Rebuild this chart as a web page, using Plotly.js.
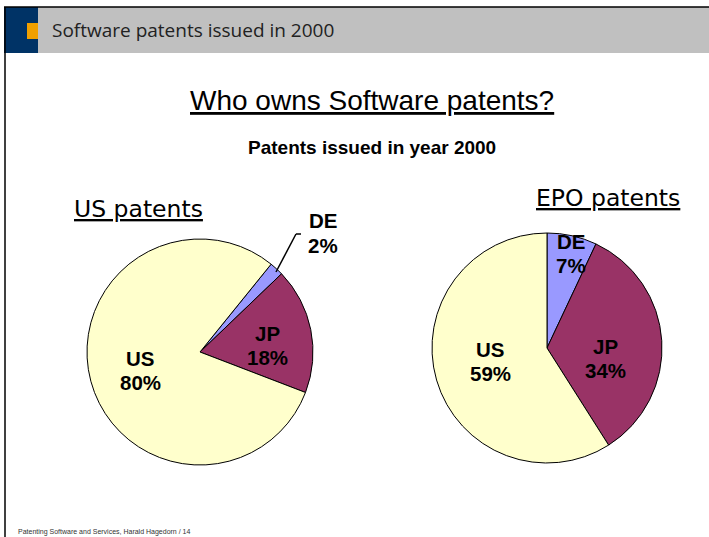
<!DOCTYPE html>
<html><head><meta charset="utf-8">
<script src="https://cdn.plot.ly/plotly-3.0.1.min.js"></script>
<style>html,body{margin:0;padding:0;background:#fff}#chart{width:709px;height:537px}</style>
</head><body><div id="chart"></div>
<script>
const categories = ["DE", "JP", "US"];
const usValues = [2, 18, 80];
const epoValues = [7, 34, 59];
const sliceColors = ["#9999FF", "#993366", "#FFFFCC"];
const headerTitle = "Software patents issued in 2000";
const mainTitle = "Who owns Software patents?";
const subTitle = "Patents issued in year 2000";
const usTitle = "US patents";
const epoTitle = "EPO patents";
const footer = "Patenting Software and Services, Harald Hagedorn / 14";

const W = 709, H = 537;
const px = x => x / W;
const py = y => 1 - y / H;

function pieDomain(cx, cy, r) {
  return {x: [px(cx - r), px(cx + r)], y: [py(cy + r), py(cy - r)]};
}

const traces = [
  {type: 'pie', labels: categories, values: usValues, sort: false, direction: 'clockwise',
   rotation: 39, marker: {colors: sliceColors, line: {color: '#000', width: 1}},
   textinfo: 'none', hoverinfo: 'label+percent', domain: pieDomain(200, 352, 113), showlegend: false},
  {type: 'pie', labels: categories, values: epoValues, sort: false, direction: 'clockwise',
   rotation: 0, marker: {colors: sliceColors, line: {color: '#000', width: 1}},
   textinfo: 'none', hoverinfo: 'label+percent', domain: pieDomain(547, 348, 115), showlegend: false}
];

const labelFont = {family: 'Liberation Sans, Arial, sans-serif', size: 20.5, color: '#000'};
const usPos = [[323, 233], [267, 345], [140, 370]];
const epoPos = [[571, 253], [605, 358], [490, 361]];

const annotations = [
  {text: headerTitle, x: px(50), y: py(30), xanchor: 'left', yanchor: 'middle',
   font: {family: 'Open Sans, DejaVu Sans, sans-serif', size: 19, color: '#222'}},
  {text: mainTitle, x: px(372), y: py(100), xanchor: 'center', yanchor: 'middle',
   font: {family: 'Liberation Sans, Arial, sans-serif', size: 28, color: '#000', lineposition: 'under'}},
  {text: '<b>' + subTitle + '</b>', x: px(372), y: py(147), xanchor: 'center', yanchor: 'middle',
   font: {family: 'Liberation Sans, Arial, sans-serif', size: 19, color: '#000'}},
  {text: usTitle, x: px(72), y: py(209), xanchor: 'left', yanchor: 'middle',
   font: {family: 'DejaVu Sans, Verdana, sans-serif', size: 23.5, color: '#000', lineposition: 'under'}},
  {text: epoTitle, x: px(682), y: py(198), xanchor: 'right', yanchor: 'middle',
   font: {family: 'DejaVu Sans, Verdana, sans-serif', size: 23.5, color: '#000', lineposition: 'under'}},
  {text: footer, x: px(16), y: py(532), xanchor: 'left', yanchor: 'middle',
   font: {family: 'Liberation Sans, Arial, sans-serif', size: 7, color: '#333'}}
];
function addLabel(name, val, pos) {
  annotations.push({text: '<b>' + name + '</b>', x: px(pos[0]), y: py(pos[1] - 12),
    xanchor: 'center', yanchor: 'middle', font: labelFont});
  annotations.push({text: '<b>' + val + '%</b>', x: px(pos[0]), y: py(pos[1] + 12),
    xanchor: 'center', yanchor: 'middle', font: labelFont});
}
categories.forEach((c, i) => {
  addLabel(c, usValues[i], usPos[i]);
  addLabel(c, epoValues[i], epoPos[i]);
});
annotations.forEach(a => { a.xref = 'paper'; a.yref = 'paper'; a.showarrow = false; });

const rect = (x0, y0, x1, y1, color) => ({type: 'rect', xref: 'paper', yref: 'paper',
  x0: px(x0), x1: px(x1), y0: py(y1), y1: py(y0), fillcolor: color, line: {width: 0}, layer: 'below'});
const line = (x0, y0, x1, y1, w) => ({type: 'line', xref: 'paper', yref: 'paper',
  x0: px(x0), x1: px(x1), y0: py(y0), y1: py(y1), line: {color: '#000', width: w}});

const shapes = [
  rect(38, 7, 709, 53, '#C0C0C0'),
  rect(4, 7, 38, 53, '#003366'),
  rect(27, 23, 38, 39, '#F0A000'),
  line(4, 7, 709, 7, 1.5),
  line(5, 7, 5, 537, 1.5),
  line(276, 272, 296, 234, 1.5),
  line(296, 234, 301, 234, 1.5)
];

Plotly.newPlot('chart', traces, {
  width: W, height: H, margin: {l: 0, r: 0, t: 0, b: 0},
  paper_bgcolor: '#fff', annotations, shapes
}, {displayModeBar: false, staticPlot: true});
</script></body></html>
